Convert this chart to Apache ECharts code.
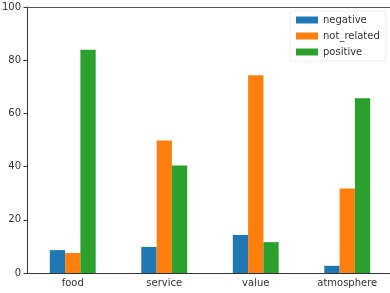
<!DOCTYPE html>
<html>
<head>
<meta charset="utf-8">
<script src="https://cdn.jsdelivr.net/npm/echarts@6/dist/echarts.min.js"></script>
<style>
  html, body { margin: 0; padding: 0; background: #fff; }
  #chart { width: 390px; height: 293px; }
</style>
</head>
<body>
<div id="chart"></div>
<script>
// categories and percentages per sentiment
var categories = ['food', 'service', 'value', 'atmosphere'];
var negative = [8.6, 9.8, 14.3, 2.7];
var notRelated = [7.5, 49.8, 74.3, 31.8];
var positive = [83.9, 40.4, 11.6, 65.7];
var yTicks = [0, 20, 40, 60, 80, 100];

var font = 'DejaVu Sans';
var myChart = echarts.init(document.getElementById('chart'), null, { renderer: 'canvas' });

function bar(name, data, color) {
  return {
    name: name,
    type: 'bar',
    data: data,
    barWidth: 15.3,
    barGap: '0%',
    itemStyle: { color: color },
    emphasis: { disabled: true }
  };
}

var option = {
  animation: false,
  textStyle: { fontFamily: font },
  grid: {
    left: 27, top: 7, right: -3, bottom: 20,
    outerBoundsMode: 'none'
  },
  legend: {
    orient: 'vertical',
    left: 290, top: 11,
    itemWidth: 22, itemHeight: 7, itemGap: 6,
    padding: [4, 6],
    borderColor: '#eeeeee', borderWidth: 1, backgroundColor: '#fff',
    textStyle: { fontFamily: font, fontSize: 10, color: '#333' },
    icon: 'rect',
    data: ['negative', 'not_related', 'positive']
  },
  xAxis: [{
    type: 'category',
    data: categories,
    axisLine: { lineStyle: { color: '#333' } },
    axisTick: { alignWithLabel: true, length: 3.5, lineStyle: { color: '#333' } },
    axisLabel: { fontFamily: font, fontSize: 10, color: '#333', margin: 5 }
  }, {
    // top spine only
    type: 'category',
    data: categories,
    position: 'top',
    axisLine: { lineStyle: { color: '#555' } },
    axisTick: { show: false },
    axisLabel: { show: false }
  }],
  yAxis: {
    type: 'value',
    min: 0, max: 100, interval: 20,
    axisLine: { show: true, lineStyle: { color: '#333' } },
    axisTick: { show: true, length: 3.5, lineStyle: { color: '#333' } },
    splitLine: { show: false },
    axisLabel: {
      fontFamily: font, fontSize: 10, color: '#333', margin: 6,
      formatter: function (v) { return yTicks.indexOf(v) >= 0 ? String(v) : ''; }
    }
  },
  series: [
    bar('negative', negative, '#1f77b4'),
    bar('not_related', notRelated, '#ff7f0e'),
    bar('positive', positive, '#2ca02c')
  ]
};

myChart.setOption(option);
</script>
</body>
</html>
